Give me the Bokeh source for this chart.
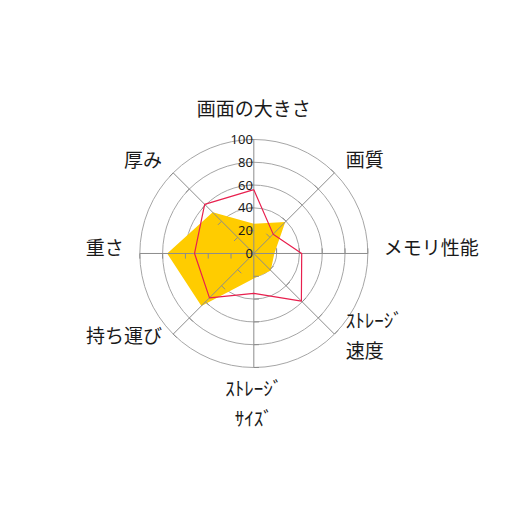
import numpy as np
from bokeh.plotting import figure
from bokeh.models import ColumnDataSource
from bokeh.core.properties import value
from bokeh.embed import file_html
from bokeh.resources import INLINE

# radar axes, clockwise from the top
categories = ["画面の大きさ", "画質", "メモリ性能", "ｽﾄﾚｰｼﾞ\n速度",
              "ｽﾄﾚｰｼﾞ\nｻｲｽﾞ", "持ち運び", "重さ", "厚み"]
series_line = [56, 24, 42, 59, 35, 55, 52, 61]
series_fill = [26, 39, 18, 21, 22, 65, 76, 51]
ring_values = [20, 40, 60, 80, 100]
tick_labels = ["0", "20", "40", "60", "80", "100"]

n = len(categories)
angles = np.pi / 2 - np.arange(n) * 2 * np.pi / n
r_max = ring_values[-1]


def to_xy(vals):
    v = np.asarray(vals, dtype=float)
    return v * np.cos(angles), v * np.sin(angles)


p = figure(width=490, height=490, x_range=(-222.2, 207.6), y_range=(-207.9, 221.9),
           output_backend="svg", toolbar_location=None, min_border=0)
p.axis.visible = False
p.grid.visible = False
p.outline_line_color = None
p.background_fill_color = "white"

# rings
p.circle(x=[0] * len(ring_values), y=[0] * len(ring_values), radius=ring_values,
         fill_color=None, line_color="#a6a6a6", line_width=1)

# filled series
fx, fy = to_xy(series_fill)
p.patch(list(fx), list(fy), fill_color="#ffcc00", line_color=None)

# spokes
sx, sy = to_xy([r_max] * n)
p.segment(x0=[0] * n, y0=[0] * n, x1=list(sx), y1=list(sy), line_color="#8c8c8c", line_width=1)

# small ticks on each spoke
tick_len = 4.5
tx0, ty0, tx1, ty1 = [], [], [], []
for a in angles:
    for rv in ring_values:
        bx, by = rv * np.cos(a), rv * np.sin(a)
        tx0.append(bx)
        ty0.append(by)
        tx1.append(bx - tick_len * np.sin(a))
        ty1.append(by + tick_len * np.cos(a))
p.segment(x0=tx0, y0=ty0, x1=tx1, y1=ty1, line_color="#8c8c8c", line_width=1)

# line series
lx, ly = to_xy(series_line)
p.line(list(lx) + [lx[0]], list(ly) + [ly[0]], line_color="#e8204e", line_width=1.2)

# value labels along the top spoke
tick_src = ColumnDataSource(dict(x=[0] * len(tick_labels),
                                 y=[0] + ring_values, t=tick_labels))
p.text(x="x", y="y", text="t", source=tick_src, x_offset=-1,
       text_align="right", text_baseline="middle", text_font_size="13px",
       text_font=value("Noto Sans"), text_color="#1a1a1a")

# category labels
lab_r = 114
cx, cy = lab_r * np.cos(angles), lab_r * np.sin(angles)
aligns, bases, yoffs = [], [], []
for a in angles:
    c, s = np.cos(a), np.sin(a)
    aligns.append("left" if c > 0.1 else ("right" if c < -0.1 else "center"))
    if s > 0.9:
        bases.append("bottom")
        yoffs.append(-3)
    elif s < -0.9:
        bases.append("top")
        yoffs.append(-9)
    elif s < -0.1:
        bases.append("middle")
        yoffs.append(-11)
    elif s < 0.1:
        bases.append("middle")
        yoffs.append(-7)
    else:
        bases.append("middle")
        yoffs.append(-3)
lab_src = ColumnDataSource(dict(x=list(cx), y=list(cy), t=categories,
                                a=aligns, b=bases, yo=yoffs))
p.text(x="x", y="y", text="t", source=lab_src, text_align="a", text_baseline="b",
       y_offset="yo", text_font_size="19px", text_line_height=1.1,
       text_font=value("Noto Sans CJK JP"), text_color="#1a1a1a")

open("out.html", "w").write(file_html(p, INLINE))
